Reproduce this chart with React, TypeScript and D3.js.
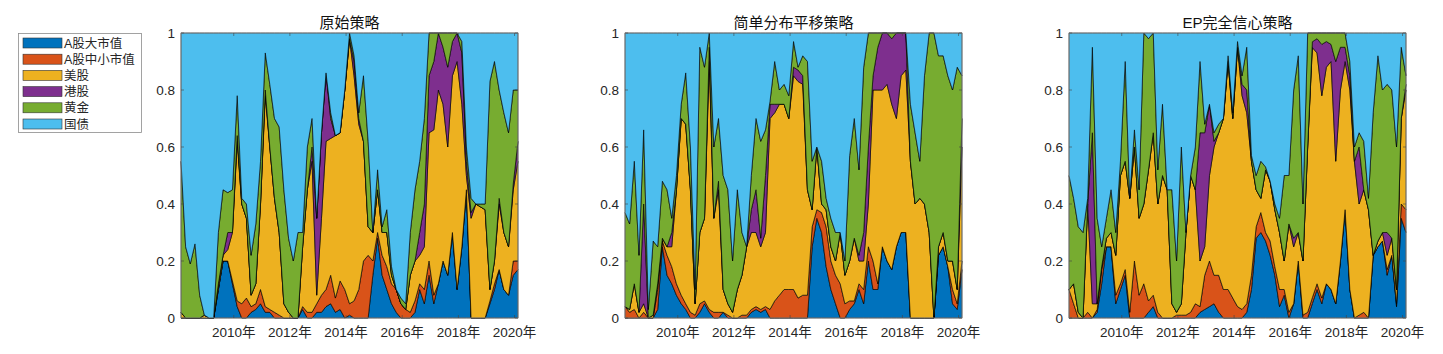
import * as d3 from 'd3';

// series order follows the legend (bottom of the stack first)
const SERIES_NAMES = ['A股大市值', 'A股中小市值', '美股', '港股', '黄金', '国债'];
const COLORS = ['#0072BD', '#D95319', '#EDB120', '#7E2F8E', '#77AC30', '#4DBEEE'];
const PANEL_TITLES = ['原始策略', '简单分布平移策略', 'EP完全信心策略'];
const X_TICK_YEARS = [2010, 2012, 2014, 2016, 2018, 2020];
const Y_TICKS = [0, 0.2, 0.4, 0.6, 0.8, 1];

// bimonthly weights, Feb 2008 .. Feb 2020
const p1LargeCap = [
  0, 0, 0, 0, 0, 0, 0, 0, 0.1, 0.2, 0.2, 0.12, 0.04, 0, 0, 0.02, 0.03, 0.05, 0.02, 0.02, 0, 0, 0, 0,
  0, 0, 0.03, 0, 0, 0.02, 0.02, 0.04, 0.05, 0.02, 0.03, 0, 0.01, 0, 0, 0, 0, 0.15, 0.28, 0.15, 0.1, 0.05, 0.02, 0,
  0, 0, 0.02, 0.1, 0.05, 0.15, 0.05, 0.12, 0.2, 0.15, 0.3, 0.1, 0.25, 0.45, 0, 0, 0, 0, 0.05, 0.1, 0.17, 0.1, 0.08, 0.15,
  0.17,
];
const p1SmallCap = [
  0, 0, 0, 0, 0, 0, 0, 0, 0, 0, 0, 0.01, 0.02, 0.05, 0.07, 0.02, 0.02, 0.05, 0.02, 0.01, 0.02, 0.01, 0, 0,
  0, 0, 0.01, 0.02, 0.02, 0.03, 0.06, 0.06, 0.1, 0.05, 0.1, 0.1, 0.04, 0.06, 0.1, 0.2, 0.22, 0.05, 0.02, 0.07, 0.08, 0.07, 0.08, 0.05,
  0.03, 0.02, 0.04, 0.02, 0.05, 0.05, 0.03, 0, 0, 0, 0, 0, 0, 0, 0, 0, 0, 0, 0.01, 0.02, 0, 0, 0, 0.05,
  0.03,
];
const p1US = [
  0.02, 0, 0, 0, 0, 0.01, 0, 0, 0.02, 0.02, 0.04, 0.17, 0.56, 0.35, 0.28, 0.04, 0.07, 0.3, 0.74, 0.57, 0.4, 0.29, 0.05, 0.02,
  0, 0, 0.21, 0.43, 0.53, 0.03, 0.27, 0.52, 0.48, 0.57, 0.52, 0.7, 0.93, 0.79, 0.58, 0.42, 0.1, 0.1, 0.15, 0.08, 0.12, 0.03, 0, 0,
  0, 0.13, 0.14, 0.1, 0.15, 0.45, 0.58, 0.68, 0.55, 0.45, 0.55, 0.8, 0.5, 0.05, 0.35, 0.4, 0.39, 0.38, 0.04, 0.08, 0.23, 0.2, 0.17, 0.25,
  0.35,
];
const p1HK = [
  0, 0, 0, 0, 0, 0, 0, 0, 0, 0, 0.06, 0, 0.02, 0, 0, 0, 0, 0, 0.02, 0, 0, 0, 0, 0,
  0, 0, 0, 0, 0.05, 0.27, 0.3, 0.24, 0.07, 0, 0, 0, 0, 0.05, 0.02, 0, 0, 0, 0, 0, 0, 0, 0, 0,
  0, 0, 0, 0.08, 0.15, 0.2, 0.24, 0.2, 0.2, 0.28, 0.12, 0.1, 0.18, 0.05, 0.02, 0, 0, 0, 0, 0, 0.02, 0, 0, 0.02,
  0.07,
];
const p1Gold = [
  0.53, 0.25, 0.19, 0.26, 0.08, 0, 0, 0, 0.18, 0.23, 0.14, 0.15, 0.14, 0.02, 0.05, 0.14, 0.21, 0.15, 0.13, 0.22, 0.28, 0.37, 0.4, 0.26,
  0.2, 0.3, 0.05, 0.15, 0.1, 0, 0, 0, 0.02, 0, 0, 0, 0.02, 0.02, 0.02, 0.23, 0.3, 0, 0.07, 0.02, 0.08, 0.03, 0, 0.02,
  0.02, 0.15, 0.25, 0.25, 0.3, 0.15, 0.1, 0, 0.05, 0.12, 0.03, 0, 0.04, 0.05, 0.05, 0, 0.01, 0.02, 0.73, 0.7, 0.38, 0.42, 0.4, 0.33,
  0.18,
];
const p1Bond = [
  0.45, 0.75, 0.81, 0.74, 0.92, 0.99, 1, 1, 0.7, 0.55, 0.56, 0.55, 0.22, 0.58, 0.6, 0.78, 0.67, 0.45, 0.07, 0.18, 0.3, 0.33, 0.55, 0.72,
  0.8, 0.7, 0.7, 0.4, 0.3, 0.65, 0.35, 0.14, 0.28, 0.36, 0.35, 0.2, 0, 0.08, 0.28, 0.15, 0.38, 0.7, 0.48, 0.68, 0.62, 0.82, 0.9, 0.93,
  0.95, 0.7, 0.55, 0.45, 0.3, 0, 0, 0, 0, 0, 0, 0, 0.03, 0.4, 0.58, 0.6, 0.6, 0.6, 0.17, 0.1, 0.2, 0.28, 0.35, 0.2,
  0.2,
];

const p2LargeCap = [
  0, 0, 0, 0, 0, 0, 0, 0.03, 0.25, 0.15, 0.12, 0.08, 0.05, 0.03, 0, 0, 0.02, 0.05, 0.02, 0, 0, 0.02, 0, 0,
  0, 0, 0, 0.02, 0.03, 0.02, 0.03, 0, 0, 0, 0, 0, 0, 0, 0, 0, 0.25, 0.35, 0.3, 0.18, 0.1, 0.05, 0, 0,
  0.03, 0.05, 0.1, 0.05, 0.2, 0.1, 0.1, 0.25, 0.2, 0.17, 0.25, 0.3, 0.3, 0, 0, 0, 0, 0, 0, 0.22, 0.25, 0.18, 0.05, 0.03,
  0.17,
];
const p2SmallCap = [
  0.04, 0.02, 0.03, 0, 0.02, 0, 0, 0.07, 0.02, 0.07, 0.06, 0.04, 0.03, 0.02, 0.02, 0.01, 0.03, 0.01, 0.01, 0.02, 0.02, 0, 0.01, 0,
  0, 0.01, 0.01, 0.01, 0.01, 0.01, 0.01, 0.03, 0.06, 0.08, 0.1, 0.1, 0.1, 0.07, 0.08, 0.08, 0.07, 0.03, 0.07, 0.14, 0.1, 0.1, 0.12, 0.05,
  0.03, 0.01, 0.02, 0.05, 0.05, 0.1, 0.02, 0, 0, 0, 0, 0, 0, 0, 0, 0, 0, 0, 0, 0, 0, 0, 0.05, 0.02,
  0.03,
];
const p2US = [
  0, 0.01, 0.09, 0.02, 0.03, 0, 0.01, 0.02, 0.01, 0.03, 0.07, 0.33, 0.62, 0.63, 0.43, 0.04, 0.25, 0.29, 0.87, 0.33, 0.43, 0.08, 0.04, 0.02,
  0.1, 0.14, 0.24, 0.27, 0.26, 0.22, 0.26, 0.67, 0.66, 0.67, 0.65, 0.6, 0.75, 0.76, 0.74, 0.37, 0.06, 0.22, 0.03, 0.06, 0.05, 0.05, 0.18, 0.1,
  0.14, 0.22, 0.08, 0.1, 0.15, 0.6, 0.68, 0.55, 0.62, 0.58, 0.45, 0.55, 0.57, 0.55, 0.4, 0.42, 0.4, 0.3, 0, 0.03, 0.05, 0.02, 0.1, 0.05,
  0.4,
];
const p2HK = [
  0, 0, 0, 0, 0.35, 0, 0, 0, 0, 0, 0.05, 0, 0, 0, 0, 0, 0, 0, 0.05, 0, 0.03, 0, 0, 0,
  0, 0, 0, 0.08, 0.15, 0.03, 0.2, 0.05, 0.03, 0, 0, 0, 0.03, 0.04, 0.03, 0, 0, 0, 0, 0, 0, 0, 0, 0,
  0, 0, 0.02, 0.1, 0.2, 0.05, 0.15, 0.2, 0.18, 0.23, 0.3, 0.15, 0.13, 0, 0, 0, 0, 0, 0, 0, 0, 0, 0, 0,
  0.1,
];
const p2Gold = [
  0.33, 0.3, 0.43, 0.2, 0.26, 0.03, 0.26, 0.13, 0.2, 0.2, 0.05, 0.05, 0.05, 0.18, 0.15, 0.05, 0.65, 0.53, 0.05, 0.25, 0.22, 0.4, 0.4, 0.18,
  0.35, 0.15, 0, 0.12, 0.25, 0.34, 0.16, 0.01, 0.15, 0.05, 0.07, 0.08, 0.09, 0.01, 0.07, 0.45, 0.17, 0, 0.15, 0.04, 0.1, 0.1, 0, 0.05,
  0.37, 0.42, 0.3, 0.58, 0.4, 0.15, 0.05, 0, 0, 0.02, 0, 0, 0, 0.2, 0.25, 0.13, 0.45, 0.7, 1, 0.67, 0.62, 0.65, 0.6, 0.78,
  0.15,
];
const p2Bond = [
  0.63, 0.67, 0.45, 0.78, 0.34, 0.97, 0.73, 0.75, 0.52, 0.55, 0.65, 0.5, 0.25, 0.14, 0.4, 0.9, 0.05, 0.12, 0, 0.4, 0.3, 0.5, 0.55, 0.8,
  0.55, 0.7, 0.75, 0.5, 0.3, 0.38, 0.34, 0.24, 0.1, 0.2, 0.18, 0.22, 0.03, 0.12, 0.08, 0.1, 0.45, 0.4, 0.45, 0.58, 0.65, 0.7, 0.7, 0.8,
  0.43, 0.3, 0.48, 0.12, 0, 0, 0, 0, 0, 0, 0, 0, 0, 0.25, 0.35, 0.45, 0.15, 0, 0, 0.08, 0.08, 0.15, 0.2, 0.12,
  0.15,
];

const p3LargeCap = [
  0, 0, 0, 0, 0, 0, 0.02, 0.12, 0.25, 0.25, 0.05, 0.1, 0.15, 0, 0, 0, 0, 0.02, 0.04, 0, 0, 0, 0, 0,
  0, 0, 0, 0, 0.02, 0.03, 0.04, 0.05, 0.02, 0, 0, 0, 0, 0, 0.02, 0.1, 0.28, 0.3, 0.27, 0.22, 0.15, 0.04, 0.08, 0,
  0.05, 0.2, 0, 0, 0.05, 0.1, 0.05, 0.12, 0.1, 0.05, 0.2, 0.38, 0.1, 0, 0, 0, 0, 0.22, 0.25, 0.27, 0.15, 0.22, 0.04, 0.35,
  0.3,
];
const p3SmallCap = [
  0.1, 0.05, 0, 0, 0.02, 0, 0.01, 0.05, 0, 0, 0.03, 0.02, 0.02, 0.02, 0.2, 0.08, 0.12, 0.04, 0.04, 0.02, 0, 0, 0, 0.01,
  0.01, 0.01, 0.02, 0.05, 0.02, 0.12, 0.16, 0.1, 0.13, 0.1, 0.1, 0.07, 0.04, 0.03, 0.03, 0.05, 0.04, 0.07, 0.03, 0.05, 0.03, 0.06, 0.02, 0.02,
  0, 0, 0.01, 0.02, 0.02, 0.02, 0.02, 0, 0, 0, 0, 0, 0, 0, 0.01, 0.02, 0, 0, 0, 0, 0.02, 0, 0.01, 0.05,
  0.08,
];
const p3US = [
  0, 0.07, 0.02, 0, 0.38, 0.05, 0.02, 0.01, 0.03, 0.05, 0.14, 0.38, 0.38, 0.4, 0.4, 0.27, 0.28, 0.46, 0.57, 0.38, 0.5, 0.45, 0.05, 0.01,
  0.04, 0.29, 0.48, 0.4, 0.16, 0.1, 0.3, 0.45, 0.5, 0.6, 0.8, 0.63, 0.91, 0.75, 0.67, 0.4, 0.13, 0.05, 0.22, 0.21, 0.2, 0.2, 0.1, 0.31,
  0.2, 0.1, 0.19, 0.58, 0.86, 0.81, 0.71, 0.76, 0.8, 0.5, 0.6, 0.52, 0.7, 0.55, 0.39, 0.43, 0.38, 0, 0.02, 0.03, 0.05, 0.06, 0.05, 0.3,
  0.42,
];
const p3HK = [
  0, 0, 0, 0, 0, 0.6, 0, 0, 0, 0, 0, 0, 0, 0, 0, 0, 0, 0, 0, 0, 0, 0, 0, 0,
  0, 0, 0, 0, 0.45, 0.4, 0.25, 0.02, 0, 0, 0, 0, 0, 0.04, 0.08, 0, 0, 0, 0, 0, 0, 0, 0, 0,
  0.03, 0, 0, 0, 0.02, 0.05, 0.18, 0.09, 0.06, 0.35, 0.15, 0.05, 0.05, 0, 0.2, 0, 0, 0, 0, 0, 0.08, 0, 0, 0,
  0.02,
];
const p3Gold = [
  0.4, 0.3, 0.3, 0.3, 0.02, 0.3, 0.3, 0.07, 0.07, 0.15, 0.08, 0.05, 0.35, 0, 0.06, 0.1, 0.6, 0.46, 0.35, 0.12, 0.25, 0, 0.4, 0.18,
  0.55, 0, 0, 0.15, 0.25, 0.03, 0, 0.03, 0.03, 0, 0.02, 0.02, 0.02, 0.03, 0.15, 0.02, 0.05, 0.13, 0.01, 0, 0.02, 0.05, 0.3, 0.17,
  0.52, 0.62, 0.2, 0.4, 0.03, 0.02, 0.04, 0.03, 0.04, 0.1, 0.05, 0.05, 0.05, 0.05, 0.05, 0.17, 0.04, 0.5, 0.65, 0.5, 0.52, 0.52, 0.5, 0.25,
  0.03,
];
const p3Bond = [
  0.5, 0.58, 0.68, 0.7, 0.58, 0.05, 0.65, 0.75, 0.65, 0.55, 0.7, 0.45, 0.1, 0.58, 0.34, 0.55, 0, 0.02, 0, 0.48, 0.25, 0.55, 0.55, 0.8,
  0.4, 0.7, 0.5, 0.4, 0.1, 0.32, 0.25, 0.35, 0.32, 0.3, 0.08, 0.28, 0.03, 0.15, 0.05, 0.43, 0.5, 0.45, 0.47, 0.52, 0.6, 0.65, 0.5, 0.5,
  0.2, 0.08, 0.6, 0, 0, 0, 0, 0, 0, 0, 0, 0, 0.1, 0.4, 0.35, 0.38, 0.58, 0.28, 0.08, 0.2, 0.18, 0.2, 0.4, 0.05,
  0.15,
];

const PANELS = [
  [p1LargeCap, p1SmallCap, p1US, p1HK, p1Gold, p1Bond],
  [p2LargeCap, p2SmallCap, p2US, p2HK, p2Gold, p2Bond],
  [p3LargeCap, p3SmallCap, p3US, p3HK, p3Gold, p3Bond],
];

const START = new Date(2008, 1, 15);
const FONT = '"Liberation Sans", "Noto Sans CJK SC", sans-serif';
const TEXT_COLOR = '#262626';

const PANEL_LEFT = [181, 625, 1069];
const PLOT_W = 337;
const PLOT_TOP = 33;
const PLOT_H = 285;

type Row = { date: Date } & Record<string, number | Date>;

function Panel({ left, title, series }: { left: number; title: string; series: number[][] }) {
  const dates = series[0].map((_, i) => d3.timeMonth.offset(START, 2 * i));
  const rows: Row[] = dates.map((date, i) => {
    const r: Row = { date } as Row;
    SERIES_NAMES.forEach((name, k) => {
      r[name] = series[k][i];
    });
    return r;
  });

  const x = d3.scaleTime().domain([dates[0], dates[dates.length - 1]]).range([0, PLOT_W]);
  const y = d3.scaleLinear().domain([0, 1]).range([PLOT_H, 0]);

  const stacked = d3
    .stack<Row>()
    .keys(SERIES_NAMES)
    .value((d, key) => d[key] as number)
    .offset(d3.stackOffsetExpand)(rows);

  const area = d3
    .area<d3.SeriesPoint<Row>>()
    .x((d) => x(d.data.date))
    .y0((d) => y(d[0]))
    .y1((d) => y(d[1]));

  const tickLen = 3;

  return (
    <g transform={`translate(${left}, ${PLOT_TOP})`}>
      {stacked.map((s, k) => (
        <path
          key={s.key}
          d={area(s) ?? ''}
          fill={COLORS[k]}
          stroke="#000"
          strokeWidth={0.75}
          strokeOpacity={0.85}
          strokeLinejoin="round"
        />
      ))}
      <rect x={0} y={0} width={PLOT_W} height={PLOT_H} fill="none" stroke="#9a9a9a" strokeWidth={0.8} />
      {Y_TICKS.map((t) => (
        <g key={t}>
          <line x1={0} x2={tickLen} y1={y(t)} y2={y(t)} stroke="#444" strokeWidth={0.6} />
          <line x1={PLOT_W} x2={PLOT_W - tickLen} y1={y(t)} y2={y(t)} stroke="#444" strokeWidth={0.6} />
          <text
            x={-6}
            y={y(t)}
            dy="0.35em"
            textAnchor="end"
            fontSize={13.5}
            fill={TEXT_COLOR}
            fontFamily={FONT}
          >
            {t}
          </text>
        </g>
      ))}
      {X_TICK_YEARS.map((yr) => {
        const px = x(new Date(yr, 0, 1));
        return (
          <g key={yr}>
            <line x1={px} x2={px} y1={PLOT_H} y2={PLOT_H - tickLen} stroke="#444" strokeWidth={0.6} />
            <line x1={px} x2={px} y1={0} y2={tickLen} stroke="#444" strokeWidth={0.6} />
            <text
              x={px}
              y={PLOT_H + 19}
              textAnchor="middle"
              fontSize={13.5}
              fill={TEXT_COLOR}
              fontFamily={FONT}
            >
              {`${yr}年`}
            </text>
          </g>
        );
      })}
      <text
        x={PLOT_W / 2}
        y={-5}
        textAnchor="middle"
        fontSize={15}
        fill="#111"
        fontFamily={FONT}
      >
        {title}
      </text>
    </g>
  );
}

function Legend() {
  const rowH = 16.2;
  return (
    <g>
      <rect x={18.5} y={33.5} width={123} height={99} fill="#fff" stroke="#8c8c8c" strokeWidth={0.8} />
      {SERIES_NAMES.map((name, k) => {
        const cy = 43 + k * rowH;
        return (
          <g key={name}>
            <rect x={23} y={cy - 5} width={39} height={10} fill={COLORS[k]} stroke="#333" strokeWidth={0.6} />
            <text x={64} y={cy} dy="0.36em" fontSize={12.5} fill={TEXT_COLOR} fontFamily={FONT}>
              {name}
            </text>
          </g>
        );
      })}
    </g>
  );
}

export default function App() {
  return (
    <svg
      width={1443}
      height={354}
      style={{ position: 'absolute', left: 0, top: 0, background: '#fff' }}
    >
      <Legend />
      {PANELS.map((series, i) => (
        <Panel key={PANEL_TITLES[i]} left={PANEL_LEFT[i]} title={PANEL_TITLES[i]} series={series} />
      ))}
    </svg>
  );
}
